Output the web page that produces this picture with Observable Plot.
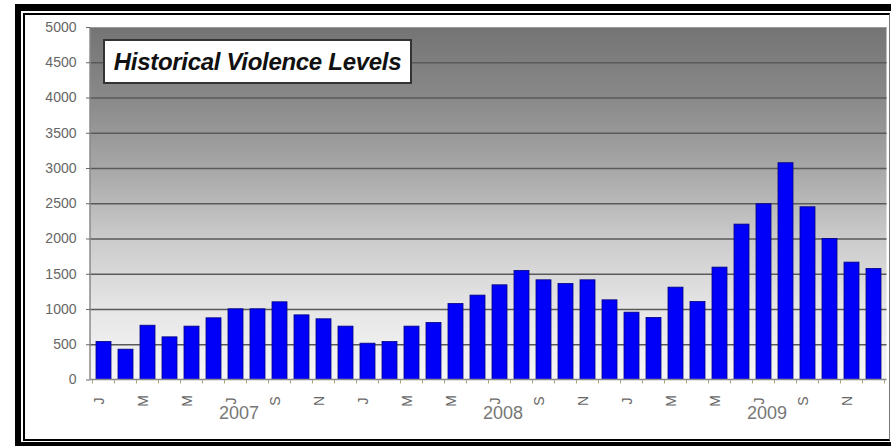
<!DOCTYPE html>
<html><head><meta charset="utf-8">
<script src="https://cdn.jsdelivr.net/npm/d3@7"></script>
<script src="https://cdn.jsdelivr.net/npm/@observablehq/plot@0.6"></script>
<style>
body{margin:0;background:#fff;}
#wrap{position:relative;width:891px;height:446px;overflow:hidden;font-family:"Liberation Sans",Arial,sans-serif;}
#chart{position:absolute;left:0;top:0;}
.outer{position:absolute;left:15px;top:4px;width:900px;height:445px;border:7px solid #000;border-left-width:6px;box-sizing:border-box;pointer-events:none;}
.inner{position:absolute;left:23px;top:13px;width:867px;height:428px;border:2.5px solid #000;border-right:1.5px solid #777;box-sizing:border-box;pointer-events:none;}
.title{position:absolute;left:103px;top:39px;width:309px;height:45px;box-sizing:border-box;border:2px solid #333;background:#fff;font-weight:bold;font-style:italic;font-size:24px;line-height:41px;text-align:center;color:#111;white-space:nowrap;letter-spacing:-0.3px;}
</style></head>
<body>
<div id="wrap">
  <div id="chart"></div>
  <div class="outer"></div>
  <div class="inner"></div>
  <div class="title">Historical Violence Levels</div>
</div>
<script>
const years = ["2007", "2008", "2009"];
const monthLetters = ["J","F","M","A","M","J","J","A","S","O","N","D"];
const incidents = [
  540, 430, 770, 605, 757, 875, 1003, 1003, 1102, 917, 861, 757,
  515, 539, 757, 809, 1078, 1197, 1343, 1547, 1414, 1362, 1414, 1130,
  955, 880, 1310, 1107, 1594, 2204, 2493, 3075, 2450, 2001, 1665, 1575
];
const yTicks = [0, 500, 1000, 1500, 2000, 2500, 3000, 3500, 4000, 4500, 5000];

const months = [];
years.forEach(y => monthLetters.forEach((m, i) => months.push(`${y}-${i}`)));
const data = months.map((m, i) => ({month: m, value: incidents[i]}));
const tickData = months.filter((m, i) => i % 2 === 0).map(m => ({month: m, label: monthLetters[+m.split("-")[1]]}));
const yearData = years.map(y => ({month: `${y}-6`, year: y}));

const PAD = 0.32;

function background(index, scales, values, dims) {
  const {width, height, marginLeft: ml, marginRight: mr, marginTop: mt, marginBottom: mb} = dims;
  const g = d3.create("svg:g");
  const lg = g.append("defs").append("linearGradient").attr("id", "bg")
    .attr("x1", 0).attr("y1", 0).attr("x2", 0).attr("y2", 1);
  [["0%", "#747474"], ["20%", "#898989"], ["40%", "#a7a7a7"], ["60%", "#cbcbcb"], ["80%", "#e6e6e6"], ["100%", "#f6f6f6"]]
    .forEach(([o, c]) => lg.append("stop").attr("offset", o).attr("stop-color", c));
  g.append("rect").attr("x", ml).attr("y", mt).attr("width", width - ml - mr).attr("height", height - mt - mb).attr("fill", "url(#bg)");
  return g.node();
}

function axesLines(index, scales, values, dims) {
  const {width, height, marginLeft: ml, marginRight: mr, marginTop: mt, marginBottom: mb} = dims;
  const x = scales.x;
  const g = d3.create("svg:g");
  const step = x(months[1]) - x(months[0]);
  const bw = step * (1 - PAD);
  const yb = height - mb;
  const bounds = months.map(m => x(m) + bw / 2 - step / 2);
  bounds.push(x(months[months.length - 1]) + bw / 2 + step / 2);
  g.append("g").attr("stroke", "#a8a27a").attr("stroke-width", 1)
    .selectAll("line").data(bounds).join("line")
    .attr("x1", d => d).attr("x2", d => d).attr("y1", yb).attr("y2", yb + 4);
  g.append("line").attr("x1", ml).attr("x2", ml).attr("y1", mt).attr("y2", yb).attr("stroke", "#8a8a8a").attr("stroke-width", 1.5);
  g.append("line").attr("x1", ml).attr("x2", width - mr).attr("y1", yb).attr("y2", yb).attr("stroke", "#8a8a8a").attr("stroke-width", 1.5);
  return g.node();
}

const chart = Plot.plot({
  width: 891,
  height: 446,
  marginLeft: 90,
  marginRight: 4.5,
  marginTop: 27,
  marginBottom: 66.5,
  style: {fontFamily: '"Liberation Sans", Arial, sans-serif', background: "#fff"},
  x: {type: "band", domain: months, paddingInner: PAD, paddingOuter: PAD / 2, axis: null},
  y: {domain: [0, 5000], label: null},
  marks: [
    background,
    Plot.ruleY(yTicks.filter(v => v > 0 && v < 5000), {stroke: "#5a5a5a", strokeWidth: 1.6}),
    Plot.ruleY([5000], {stroke: "#9a9a9a", strokeWidth: 1}),
    Plot.barY(data, {x: "month", y: "value", fill: "#0000f8", stroke: "#000080", strokeWidth: 0.8}),
    axesLines,
    Plot.axisY({ticks: yTicks, tickSize: 4, tickPadding: 10, fontSize: 14, color: "#666", tickFormat: d => String(d), label: null}),
    Plot.text(tickData, {x: "month", text: "label", frameAnchor: "bottom", dy: 21, rotate: -90, fontSize: 14, fill: "#666"}),
    Plot.text(yearData, {x: "month", text: "year", frameAnchor: "bottom", dy: 39, dx: 3, fontSize: 18, fill: "#777"})
  ]
});
document.getElementById("chart").appendChild(chart);
</script>
</body></html>
